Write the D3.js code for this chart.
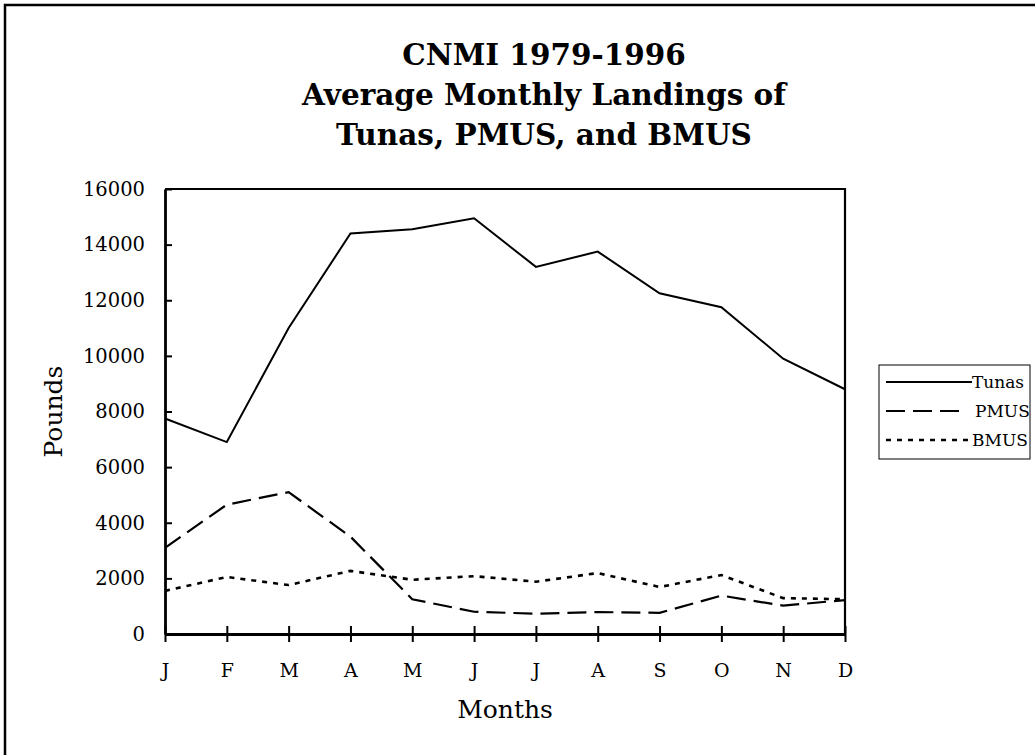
<!DOCTYPE html>
<html><head><meta charset="utf-8">
<script src="https://cdn.jsdelivr.net/npm/d3@7/dist/d3.min.js"></script>
<style>body{margin:0;background:#fff}svg{display:block}</style>
</head><body>
<script>
const months = ["J","F","M","A","M","J","J","A","S","O","N","D"];
const tunas = [7750, 6900, 11000, 14400, 14550, 14950, 13200, 13750, 12250, 11750, 9900, 8800];
const pmus  = [3100, 4650, 5100, 3500, 1250, 800, 730, 790, 760, 1380, 1020, 1220];
const bmus  = [1550, 2050, 1760, 2270, 1950, 2080, 1880, 2190, 1690, 2120, 1290, 1250];
const yTicks = [0, 2000, 4000, 6000, 8000, 10000, 12000, 14000, 16000];
const seriesNames = ["Tunas", "PMUS", "BMUS"];
const titleLines = ["CNMI 1979-1996", "Average Monthly Landings of", "Tunas, PMUS, and BMUS"];

const W = 1035, H = 755;
const svg = d3.select("body").append("svg").attr("width", W).attr("height", H);
const font = "'DejaVu Serif', serif";

svg.append("rect").attr("x", 5).attr("y", 5).attr("width", W + 20).attr("height", H + 20)
  .attr("fill", "none").attr("stroke", "#000").attr("stroke-width", 2.5);

const L = 165, R = 845, T = 189, B = 634;
const x = d3.scalePoint().domain(d3.range(months.length)).range([L, R]);
const y = d3.scaleLinear().domain([0, 16000]).range([B, T]);

// plot frame top & right
svg.append("path").attr("d", `M${L},${T}H${R}V${B}`).attr("fill", "none")
  .attr("stroke", "#000").attr("stroke-width", 2.2);

const yAxis = svg.append("g").attr("transform", `translate(${L},0)`)
  .call(d3.axisLeft(y).tickValues(yTicks).tickSize(8).tickSizeOuter(0).tickFormat(d3.format("d")));
yAxis.selectAll(".tick line").attr("x2", 7).attr("stroke-width", 2);
yAxis.select(".domain").attr("stroke-width", 2.8);
yAxis.selectAll("text").attr("font-family", font).attr("font-size", 19.5).attr("x", -20).attr("fill", "#000");

const xAxis = svg.append("g").attr("transform", `translate(0,${B})`)
  .call(d3.axisBottom(x).tickSize(8).tickSizeOuter(0).tickFormat(i => months[i]));
xAxis.selectAll(".tick line").attr("y1", -8).attr("stroke-width", 2);
xAxis.select(".domain").attr("stroke-width", 2.8);
xAxis.selectAll("text").attr("font-family", font).attr("font-size", 19)
  .attr("y", 43).attr("dy", 0).attr("fill", "#000");

const dashes = [null, "19,8", "5,6"];
const widths = [2, 2.2, 2.6];
const line = d3.line().x((d, i) => x(i)).y(d => y(d));
[tunas, pmus, bmus].forEach((s, k) => {
  svg.append("path").datum(s).attr("d", line).attr("fill", "none")
    .attr("stroke", "#000").attr("stroke-width", widths[k])
    .attr("stroke-dasharray", dashes[k]);
});

// title
titleLines.forEach((t, i) => {
  svg.append("text").attr("x", 544).attr("y", 65 + i * 40).attr("text-anchor", "middle")
    .attr("font-family", font).attr("font-weight", "bold").attr("font-size", 29.5).text(t);
});

svg.append("text").attr("x", 505).attr("y", 718).attr("text-anchor", "middle")
  .attr("font-family", font).attr("font-size", 25).text("Months");
svg.append("text").attr("transform", `translate(62,${(T + B) / 2}) rotate(-90)`).attr("text-anchor", "middle")
  .attr("font-family", font).attr("font-size", 25).text("Pounds");

// legend
const lg = svg.append("g");
lg.append("rect").attr("x", 879).attr("y", 365).attr("width", 151).attr("height", 94)
  .attr("fill", "#fff").attr("stroke", "#000").attr("stroke-width", 1);
const legEnd = [972, 960, 972];
seriesNames.forEach((n, k) => {
  const ly = 382 + k * 29;
  lg.append("line").attr("x1", 886).attr("x2", legEnd[k]).attr("y1", ly).attr("y2", ly)
    .attr("stroke", "#000").attr("stroke-width", widths[k]).attr("stroke-dasharray", dashes[k]);
  lg.append("text").attr("x", k === 1 ? 975 : 972).attr("y", ly + 6).attr("font-family", font)
    .attr("font-size", 17).text(n);
});
</script>
</body></html>
